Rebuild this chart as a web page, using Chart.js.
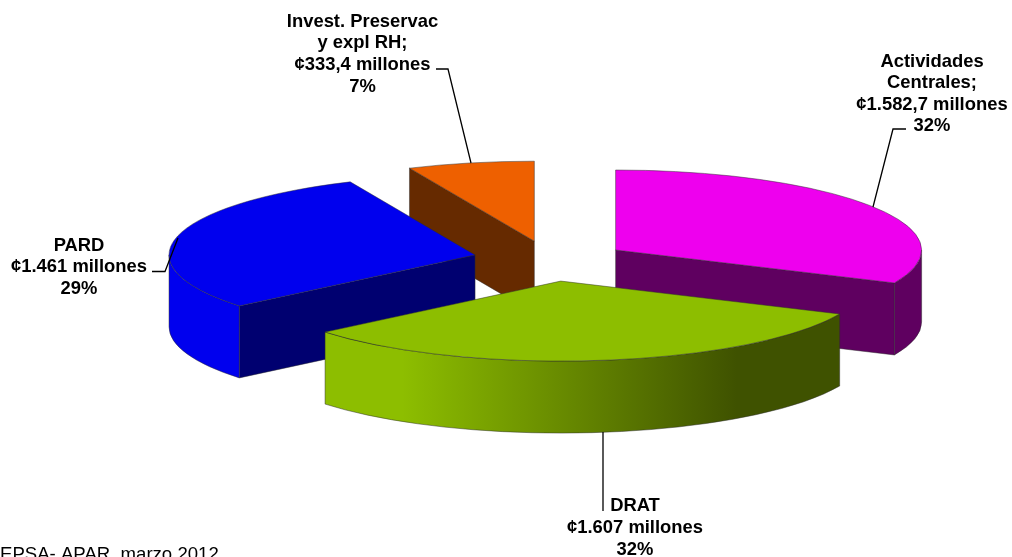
<!DOCTYPE html>
<html lang="es">
<head>
<meta charset="utf-8">
<title>Distribución del presupuesto</title>
<script src="https://cdn.jsdelivr.net/npm/chart.js@4/dist/chart.umd.min.js"></script>
<style>
  html, body { margin: 0; padding: 0; background: #fff; overflow: hidden; }
  canvas { display: block; }
</style>
</head>
<body>
<canvas id="pie" width="1012" height="557"></canvas>
<script>
// Budget per programme, in millions of colones
const categories = ['Actividades Centrales', 'DRAT', 'PARD', 'Invest. Preservac y expl RH'];
const amounts = [1582.7, 1607, 1461, 333.4];
const amountLabels = ['¢1.582,7 millones', '¢1.607 millones', '¢1.461 millones', '¢333,4 millones'];
const percentLabels = ['32%', '32%', '29%', '7%'];

// Slice styling, in the same order as the categories
const topColors = ['#ee00ee', '#8dbe00', '#0000ee', '#ee6000'];
const sideColors = ['#5f0060', '#3f5200', '#000070', '#662a00'];
const rimColors = ['#5f0060', null, '#0000ee', '#662a00'];
const verticalShift = [0, 0, -1.5, 0];

// Projection of the tilted disc
const radius = 306;
const tilt = 80 / 306;
const depth = 72;
const explode = 77.5;
const edgeColor = 'rgba(45,45,45,0.6)';

// Category captions: text lines, centre x, first line's baseline, line step
const captionFont = 'bold 18.4px "Liberation Sans", Arial, sans-serif';
const captions = [
  { lines: ['Actividades', 'Centrales;', amountLabels[0], percentLabels[0]], x: 932, y: 66.5, step: 21.6 },
  { lines: [categories[1], amountLabels[1], percentLabels[1]], x: 635, y: 510.5, step: 22.4 },
  { lines: [categories[2], amountLabels[2], percentLabels[2]], x: 79, y: 250.5, step: 21.6 },
  { lines: ['Invest. Preservac', 'y expl RH;', amountLabels[3], percentLabels[3]], x: 362.5, y: 26.5, step: 21.8 }
];

// Leader lines from the captions to their slices
const leaders = [
  [[906, 129], [893, 129], [873, 207]],
  [[603, 432], [603, 511]],
  [[152, 271.5], [165, 271.5], [178, 238]],
  [[436, 69], [448, 69], [471, 163]]
];

const sourceNote = 'EPSA- APAR  marzo 2012';

function greenWallGradient(ctx, left, right) {
  const g = ctx.createLinearGradient(left, 0, right, 0);
  g.addColorStop(0, '#8dbe00');
  g.addColorStop(0.15, '#8dbe00');
  g.addColorStop(0.8, '#3f5200');
  g.addColorStop(1, '#3f5200');
  return g;
}

const extrudedPie = {
  id: 'extrudedPie',
  beforeDatasetsDraw(chart) {
    const ctx = chart.ctx;
    const arcs = chart.getDatasetMeta(0).data;

    const slices = arcs.map((arc, i) => {
      const mid = (arc.startAngle + arc.endAngle) / 2;
      return {
        arc, i,
        a0: arc.startAngle,
        a1: arc.endAngle,
        r: arc.outerRadius,
        sx: arc.x + Math.cos(mid) * explode,
        sy: arc.y + Math.sin(mid) * explode * tilt + verticalShift[i]
      };
    }).sort((p, q) => p.sy - q.sy);

    ctx.save();
    ctx.lineWidth = 0.8;
    ctx.strokeStyle = edgeColor;
    ctx.lineJoin = 'round';

    slices.forEach(s => {
      const ry = s.r * tilt;
      const point = a => [s.sx + Math.cos(a) * s.r, s.sy + Math.sin(a) * ry];

      // Straight cut faces that turn towards the viewer
      [[s.a0, Math.cos(s.a0) < -1e-6], [s.a1, Math.cos(s.a1) > 1e-6]].forEach(([a, seen]) => {
        if (!seen) return;
        const [px, py] = point(a);
        ctx.beginPath();
        ctx.moveTo(s.sx, s.sy);
        ctx.lineTo(px, py);
        ctx.lineTo(px, py + depth);
        ctx.lineTo(s.sx, s.sy + depth);
        ctx.closePath();
        ctx.fillStyle = sideColors[s.i];
        ctx.fill();
        ctx.stroke();
      });

      // Outer wall along the near half of the rim
      const from = Math.max(s.a0, 0);
      const to = Math.min(s.a1, Math.PI);
      if (from < to) {
        ctx.beginPath();
        ctx.ellipse(s.sx, s.sy, s.r, ry, 0, from, to, false);
        ctx.ellipse(s.sx, s.sy + depth, s.r, ry, 0, to, from, true);
        ctx.closePath();
        ctx.fillStyle = rimColors[s.i] ||
          greenWallGradient(ctx, point(to)[0], point(from)[0]);
        ctx.fill();
        ctx.stroke();
      }

      // Top face: the library's arc, flattened onto the tilted plane
      ctx.save();
      ctx.translate(s.sx, s.sy);
      ctx.scale(1, tilt);
      ctx.translate(-s.arc.x, -s.arc.y);
      s.arc.draw(ctx);
      ctx.restore();

      // Thin outline round the top face
      ctx.beginPath();
      ctx.moveTo(s.sx, s.sy);
      ctx.ellipse(s.sx, s.sy, s.r, ry, 0, s.a0, s.a1, false);
      ctx.closePath();
      ctx.stroke();
    });
    ctx.restore();
    return false;
  },
  afterDraw(chart) {
    const ctx = chart.ctx;
    ctx.save();

    ctx.strokeStyle = '#000';
    ctx.lineWidth = 1.3;
    leaders.forEach(path => {
      ctx.beginPath();
      path.forEach(([x, y], k) => (k ? ctx.lineTo(x, y) : ctx.moveTo(x, y)));
      ctx.stroke();
    });

    ctx.fillStyle = '#000';
    ctx.textAlign = 'center';
    ctx.textBaseline = 'alphabetic';
    ctx.font = captionFont;
    captions.forEach(c => {
      c.lines.forEach((line, k) => ctx.fillText(line, c.x, c.y + k * c.step));
    });

    ctx.textAlign = 'left';
    ctx.font = '18.6px "Liberation Sans", Arial, sans-serif';
    ctx.fillText(sourceNote, 0, 560);
    ctx.restore();
  }
};

new Chart(document.getElementById('pie'), {
  type: 'pie',
  data: {
    labels: categories,
    datasets: [{
      data: amounts,
      backgroundColor: topColors,
      borderWidth: 0
    }]
  },
  options: {
    responsive: false,
    animation: false,
    events: [],
    radius: radius,
    layout: { padding: { left: 89, bottom: 35 } },
    plugins: { legend: { display: false }, tooltip: { enabled: false } }
  },
  plugins: [extrudedPie]
});
</script>
</body>
</html>
